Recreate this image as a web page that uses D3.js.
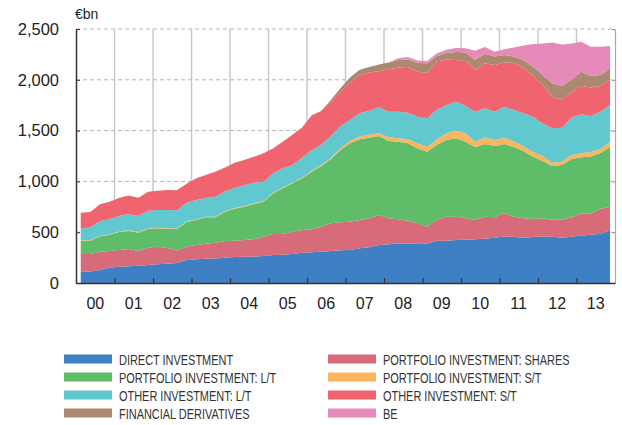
<!DOCTYPE html>
<html>
<head>
<meta charset="utf-8">
<script src="https://cdn.jsdelivr.net/npm/d3@7"></script>
<style>
  html, body { margin: 0; padding: 0; background: #fff; }
  svg { display: block; }
</style>
</head>
<body>
<svg id="chart" width="622" height="425"></svg>
<script>
// 분기 카테고리
const years = [2000, 2001, 2002, 2003, 2004, 2005, 2006, 2007, 2008, 2009, 2010, 2011, 2012, 2013];
const yearLabels = ["00", "01", "02", "03", "04", "05", "06", "07", "08", "09", "10", "11", "12", "13"];
const quarters = years.flatMap(y => [1, 2, 3, 4].map(q => ({ year: y, q })));

const yTicks = [0, 500, 1000, 1500, 2000, 2500];

// 시리즈 값 (€bn, 분기별 2000Q1 ~ 2013Q4)
const directInv = [
  108, 112, 128, 151, 161, 166, 169, 177, 184, 190, 197, 226, 233, 239, 242, 249,
  256, 259, 262, 266, 276, 279, 285, 298, 302, 308, 315, 322, 325, 341, 351, 374,
  381, 390, 390, 384, 390, 417, 417, 423, 425, 430, 435, 445, 457, 455, 446, 452,
  457, 455, 445, 455, 467, 475, 484, 515
];
const portShares = [
  177, 173, 180, 164, 164, 169, 146, 171, 173, 154, 124, 131, 141, 148, 155, 164,
  160, 164, 168, 190, 206, 203, 220, 224, 226, 246, 272, 275, 278, 279, 286, 295,
  256, 237, 223, 203, 164, 203, 236, 230, 212, 190, 218, 201, 229, 198, 191, 178,
  181, 167, 177, 193, 214, 206, 246, 232
];
const portLT = [
  131, 131, 152, 160, 177, 177, 180, 183, 181, 191, 207, 244, 246, 259, 249, 289,
  315, 328, 348, 344, 401, 450, 476, 508, 568, 598, 630, 712, 772, 794, 793, 778,
  761, 764, 762, 738, 738, 738, 755, 771, 754, 716, 715, 702, 682, 687, 663, 613,
  562, 529, 539, 572, 556, 564, 550, 588
];
const portST = [
  6, 6, 6, 6, 6, 6, 6, 6, 6, 6, 6, 6, 6, 6, 6, 6,
  6, 6, 6, 8, 8, 8, 8, 8, 10, 10, 12, 20, 25, 28, 30, 30,
  36, 33, 39, 50, 50, 55, 65, 75, 80, 55, 66, 60, 62, 55, 45, 47,
  50, 33, 33, 40, 39, 45, 40, 55
];
const otherLT = [
  113, 126, 141, 149, 151, 161, 158, 175, 174, 177, 181, 184, 191, 185, 198, 194,
  198, 204, 203, 189, 189, 189, 172, 195, 203, 196, 218, 216, 204, 228, 236, 252,
  252, 262, 262, 262, 279, 290, 279, 286, 271, 295, 285, 278, 305, 307, 325, 347,
  321, 338, 334, 370, 384, 353, 366, 362
];
const otherST = [
  157, 151, 167, 170, 181, 181, 181, 187, 191, 197, 197, 187, 213, 226, 246, 236,
  249, 250, 256, 279, 246, 261, 299, 297, 341, 335, 338, 335, 371, 375, 376, 356,
  419, 434, 449, 443, 446, 477, 448, 410, 444, 411, 443, 460, 435, 463, 450, 400,
  377, 312, 273, 253, 278, 282, 252, 252
];
const derivatives = [
  0, 0, 0, 0, 0, 0, 0, 0, 0, 0, 0, 0, 0, 0, 0, 0,
  0, 0, 0, 0, 0, 0, 0, 0, 0, 0, 15, 40, 50, 55, 55, 65,
  65, 75, 76, 85, 95, 52, 65, 78, 82, 98, 95, 84, 74, 65, 75, 92,
  99, 131, 137, 121, 142, 112, 109, 108
];
const be = [
  0, 0, 0, 0, 0, 0, 0, 0, 0, 0, 0, 0, 0, 0, 0, 0,
  0, 0, 0, 0, 0, 0, 0, 0, 0, 0, 0, 0, 0, 0, 0, 0,
  0, 17, 24, 25, 24, 28, 32, 40, 42, 90, 65, 47, 56, 88, 143, 223,
  311, 403, 410, 354, 295, 289, 279, 220
];

const series = [
  { key: "di", name: "DIRECT INVESTMENT", values: directInv, color: "#3f7fc3" },
  { key: "shares", name: "PORTFOLIO INVESTMENT: SHARES", values: portShares, color: "#d76b79" },
  { key: "plt", name: "PORTFOLIO INVESTMENT: L/T", values: portLT, color: "#5fbc69" },
  { key: "pst", name: "PORTFOLIO INVESTMENT: S/T", values: portST, color: "#fbb55f" },
  { key: "olt", name: "OTHER INVESTMENT: L/T", values: otherLT, color: "#62c8cf" },
  { key: "ost", name: "OTHER INVESTMENT: S/T", values: otherST, color: "#f0646f" },
  { key: "der", name: "FINANCIAL DERIVATIVES", values: derivatives, color: "#ab8970" },
  { key: "be", name: "BE", values: be, color: "#e68bb9" }
];

const legendLeft = ["di", "plt", "olt", "der"];
const legendRight = ["shares", "pst", "ost", "be"];

const FONT = "'Liberation Sans', Arial, Helvetica, sans-serif";

/* =========================
   차트
   ========================= */
const svg = d3.select("#chart");

const x = d3.scaleTime()
  .domain([new Date(2000, 0, 1), new Date(2014, 0, 1)])
  .range([76, 615]);

const y = d3.scaleLinear()
  .domain([0, 2500])
  .range([283, 29]);

const rows = quarters.map((d, i) => {
  const row = { date: new Date(d.year, (d.q - 1) * 3 + 1, 15) };
  series.forEach(s => { row[s.key] = s.values[i]; });
  return row;
});

const stacked = d3.stack().keys(series.map(s => s.key))(rows);
const colorOf = Object.fromEntries(series.map(s => [s.key, s.color]));

// 그리드
const yearEdges = d3.timeYear.range(new Date(2001, 0, 1), new Date(2014, 0, 1));
svg.append("g")
  .selectAll("line")
  .data(yearEdges)
  .join("line")
  .attr("x1", d => x(d)).attr("x2", d => x(d))
  .attr("y1", y(2500)).attr("y2", y(0))
  .attr("stroke", "#c9c9c9")
  .attr("stroke-width", 1.5);

svg.append("g")
  .selectAll("line")
  .data(yTicks.filter(v => v > 0))
  .join("line")
  .attr("x1", x.range()[0]).attr("x2", x.range()[1])
  .attr("y1", d => y(d)).attr("y2", d => y(d))
  .attr("stroke", "#b5b5b5")
  .attr("stroke-dasharray", "4,3");

// 면적
const area = d3.area()
  .x(d => x(d.data.date))
  .y0(d => y(d[0]))
  .y1(d => y(d[1]));

svg.append("g")
  .selectAll("path")
  .data(stacked)
  .join("path")
  .attr("fill", d => colorOf[d.key])
  .attr("d", area);

// 축
const yAxis = svg.append("g")
  .attr("transform", `translate(${x.range()[0]},0)`)
  .call(d3.axisLeft(y).tickValues(yTicks).tickFormat(d3.format(","))
    .tickSizeInner(-4).tickSizeOuter(0).tickPadding(17));
yAxis.select(".domain").attr("stroke", "#333").attr("stroke-width", 1.5);
yAxis.selectAll(".tick line").attr("stroke", "#333");
yAxis.selectAll(".tick text")
  .style("font-family", FONT)
  .style("font-size", "16.5px")
  .attr("fill", "#222");

const rAxis = svg.append("g")
  .attr("transform", `translate(${x.range()[1]},0)`)
  .call(d3.axisRight(y).tickValues(yTicks).tickFormat("")
    .tickSizeInner(-3).tickSizeOuter(0));
rAxis.select(".domain").attr("stroke", "#aaa").attr("stroke-width", 1.2);
rAxis.selectAll(".tick line").attr("stroke", "#888");

const xAxis = svg.append("g")
  .attr("transform", `translate(0,${y(0)})`)
  .call(d3.axisBottom(x).tickValues(yearEdges).tickFormat("")
    .tickSizeInner(-5).tickSizeOuter(0));
xAxis.select(".domain").attr("stroke", "#333").attr("stroke-width", 1.6);
xAxis.selectAll(".tick line").attr("stroke", "#333").attr("stroke-width", 1.2);

svg.append("g")
  .selectAll("text")
  .data(years)
  .join("text")
  .attr("x", d => x(new Date(d, 6, 2)))
  .attr("y", 309)
  .attr("text-anchor", "middle")
  .style("font-family", FONT)
  .style("font-size", "16px")
  .attr("fill", "#222")
  .text((d, i) => yearLabels[i]);

svg.append("text")
  .attr("x", 75)
  .attr("y", 19)
  .style("font-family", FONT)
  .style("font-size", "14px")
  .attr("fill", "#222")
  .text("€bn");

// 범례 (좁은 글꼴 대신 가로로 눌러서 표시)
const legend = svg.append("g");
const byKey = Object.fromEntries(series.map(s => [s.key, s]));
[[legendLeft, 64, 119], [legendRight, 328, 383]].forEach(([keys, sx, tx]) => {
  keys.forEach((k, i) => {
    const cy = 359 + i * 18;
    legend.append("rect")
      .attr("x", sx).attr("y", cy - 4.5)
      .attr("width", 48).attr("height", 9)
      .attr("fill", byKey[k].color);
    legend.append("text")
      .attr("transform", `translate(${tx},${cy + 5.5}) scale(0.73,1)`)
      .style("font-family", FONT)
      .style("font-size", "15px")
      .attr("fill", "#333")
      .text(byKey[k].name);
  });
});
</script>
</body>
</html>
